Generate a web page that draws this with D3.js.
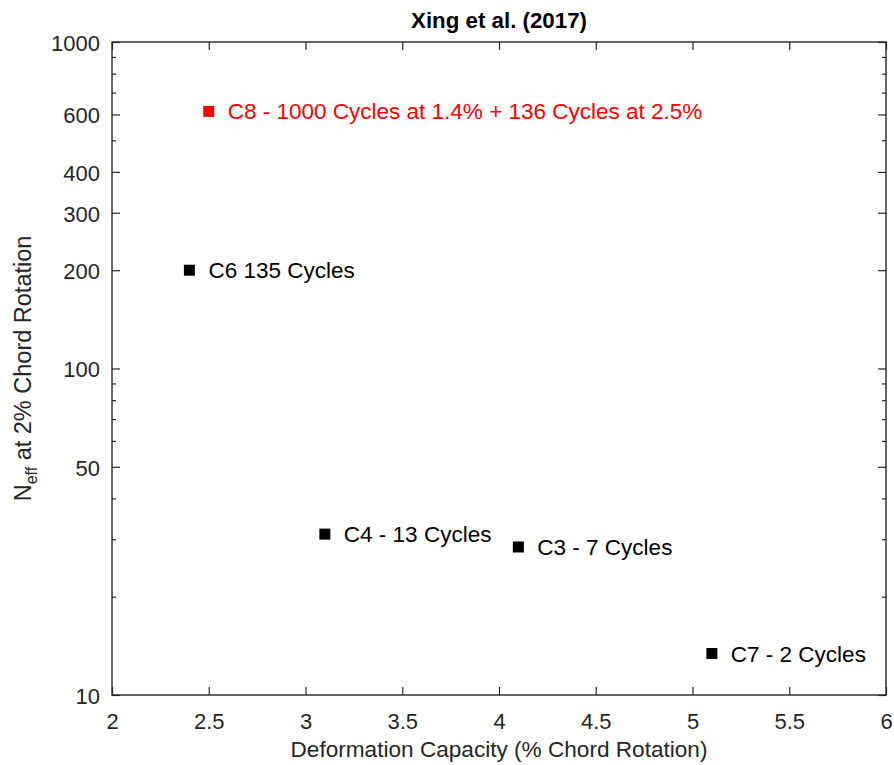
<!DOCTYPE html>
<html>
<head>
<meta charset="utf-8">
<script src="https://cdn.jsdelivr.net/npm/d3@7"></script>
<style>
  body { margin: 0; background: #fff; }
  text { font-family: "Liberation Sans", Arial, Helvetica, sans-serif; }
</style>
</head>
<body>
<svg id="chart" width="894" height="765"></svg>
<script>
// Specimen results: deformation capacity vs. effective cycles at 2% rotation
const specimens = ["C8", "C6", "C4", "C3", "C7"];
const capacity = [2.5, 2.4, 3.1, 4.1, 5.1];
const neff = [613, 200, 31.1, 28.4, 13.4];
const pointLabels = [
  "C8 - 1000 Cycles at 1.4% + 136 Cycles at 2.5%",
  "C6 135 Cycles",
  "C4 - 13 Cycles",
  "C3 - 7 Cycles",
  "C7 - 2 Cycles"
];
const highlighted = ["C8"];

const xTicks = [2, 2.5, 3, 3.5, 4, 4.5, 5, 5.5, 6];
const yMajorTicks = [10, 50, 100, 200, 300, 400, 600, 1000];
const yMinorTicks = [20, 30, 40, 60, 70, 80, 90, 500, 700, 800, 900];

const titleText = "Xing et al. (2017)";
const xLabelText = "Deformation Capacity (% Chord Rotation)";

const W = 894, H = 765;
const margin = { top: 42, right: 8, bottom: 70, left: 112 };
const iw = W - margin.left - margin.right;
const ih = H - margin.top - margin.bottom;
const axisColor = "#262626";

const svg = d3.select("#chart");
const g = svg.append("g").attr("transform", `translate(${margin.left},${margin.top})`);

const x = d3.scaleLinear().domain([2, 6]).range([0, iw]);
const y = d3.scaleLog().domain([10, 1000]).range([ih, 0]);

function styleAxis(sel) {
  sel.select(".domain").remove();
  sel.selectAll(".tick line").attr("stroke", axisColor).attr("stroke-width", 1.2);
  sel.selectAll(".tick text")
    .attr("fill", axisColor)
    .style("font-size", "22px")
    .style("font-family", '"Liberation Sans", Arial, sans-serif');
}

// bottom / top x axes (ticks point inward)
g.append("g").attr("transform", `translate(0,${ih})`)
  .call(d3.axisBottom(x).tickValues(xTicks).tickSize(-8).tickPadding(18).tickFormat(d => String(d)))
  .call(styleAxis);
g.append("g")
  .call(d3.axisTop(x).tickValues(xTicks).tickSize(-8).tickFormat(""))
  .call(styleAxis);

// left / right y axes, labelled major ticks and short minor ticks
g.append("g")
  .call(d3.axisLeft(y).tickValues(yMajorTicks).tickSize(-8).tickPadding(12).tickFormat(d => String(d)))
  .call(styleAxis)
  .call(s => s.selectAll(".tick text").attr("dy", "0.38em"));
g.append("g")
  .call(d3.axisLeft(y).tickValues(yMinorTicks).tickSize(-4).tickFormat(""))
  .call(styleAxis);
g.append("g").attr("transform", `translate(${iw},0)`)
  .call(d3.axisRight(y).tickValues(yMajorTicks).tickSize(-8).tickFormat(""))
  .call(styleAxis);
g.append("g").attr("transform", `translate(${iw},0)`)
  .call(d3.axisRight(y).tickValues(yMinorTicks).tickSize(-4).tickFormat(""))
  .call(styleAxis);

// axes box
g.append("rect")
  .attr("x", 0).attr("y", 0).attr("width", iw).attr("height", ih)
  .attr("fill", "none").attr("stroke", axisColor).attr("stroke-width", 1.4);

// data points and their annotations
const points = specimens.map((id, i) => ({
  id, cap: capacity[i], n: neff[i], label: pointLabels[i],
  color: highlighted.includes(id) ? "#ff0000" : "#000000"
}));

const ms = 11;
g.selectAll("rect.pt").data(points).join("rect")
  .attr("class", "pt")
  .attr("x", d => x(d.cap) - ms / 2)
  .attr("y", d => y(d.n) - ms / 2)
  .attr("width", ms).attr("height", ms)
  .attr("fill", d => d.color);

g.selectAll("text.pt-label").data(points).join("text")
  .attr("class", "pt-label")
  .attr("x", d => x(d.cap) + 19)
  .attr("y", d => y(d.n))
  .attr("dy", "0.36em")
  .attr("fill", d => d.color)
  .style("font-size", "22.5px")
  .text(d => d.label);

// title
svg.append("text")
  .attr("x", margin.left + iw / 2).attr("y", 28)
  .attr("text-anchor", "middle")
  .style("font-size", "22.3px").style("font-weight", "bold")
  .attr("fill", "#000")
  .text(titleText);

// x axis label
svg.append("text")
  .attr("x", margin.left + iw / 2).attr("y", 757)
  .attr("text-anchor", "middle")
  .style("font-size", "22.6px")
  .attr("fill", axisColor)
  .text(xLabelText);

// y axis label with subscript
const yl = svg.append("text")
  .attr("transform", `translate(31,${margin.top + ih / 2}) rotate(-90)`)
  .attr("text-anchor", "middle")
  .style("font-size", "23.5px")
  .attr("fill", axisColor);
yl.append("tspan").text("N");
yl.append("tspan").attr("dy", 6).style("font-size", "16px").text("eff");
yl.append("tspan").attr("dy", -6).text(" at 2% Chord Rotation");
</script>
</body>
</html>
